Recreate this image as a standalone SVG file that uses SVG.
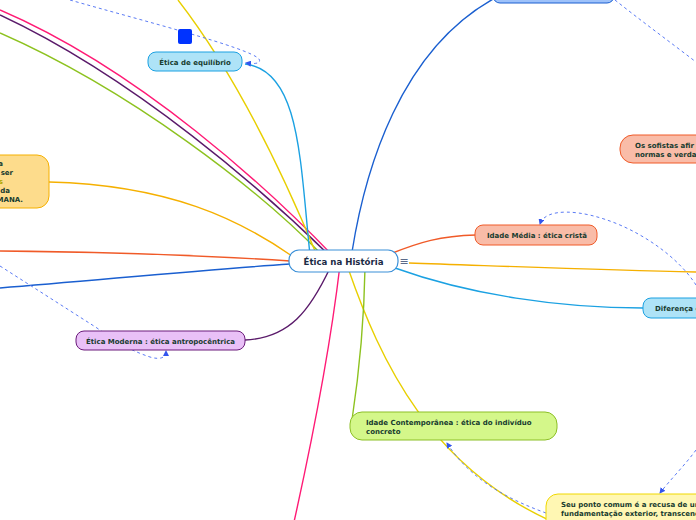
<svg xmlns="http://www.w3.org/2000/svg" width="696" height="520" viewBox="0 0 696 520">
<defs>
<style>
.c{fill:none;stroke-width:1.4}
.d{fill:none;stroke:#5b7bf5;stroke-width:1;stroke-dasharray:3 3}
.t{font-family:"DejaVu Sans",Verdana,sans-serif;font-weight:bold;font-size:7px;fill:#173b2f}
.n{stroke-width:1}
</style>
<marker id="ah" viewBox="0 0 6 6" refX="5" refY="3" markerWidth="6" markerHeight="6" orient="auto" markerUnits="userSpaceOnUse">
<path d="M0,0 L6,3 L0,6 Z" fill="#3355ee"/>
</marker>
</defs>
<rect width="696" height="520" fill="#ffffff"/>
<g id="connectors">
<path class="c" stroke="#ff1a75" d="M335 258 C270 190,140 70,0 10"/>
<path class="c" stroke="#5a1a6a" d="M332 258 C265 192,135 78,0 15"/>
<path class="c" stroke="#8dc21f" d="M325 258 C260 190,130 90,0 33"/>
<path class="c" stroke="#e8cf00" d="M318 258 C290 190,240 80,178 0"/>
<path class="c" stroke="#e8cf00" d="M348 268 C380 360,430 470,560 525"/>
<path class="c" stroke="#1ba1e2" d="M310 255 C300 160,300 70,245 64"/>
<path class="c" stroke="#1a5fd0" d="M352 252 C365 170,400 50,495 -2"/>
<path class="c" stroke="#f05a28" d="M390 254 C420 242,440 236,476 235"/>
<path class="c" stroke="#f5b000" d="M409 263 C500 266,600 270,696 272"/>
<path class="c" stroke="#1ba1e2" d="M395 268 C470 295,560 308,643 308"/>
<path class="c" stroke="#f5b000" d="M292 256 C240 220,170 185,49 182"/>
<path class="c" stroke="#f05a28" d="M290 261 C200 255,100 252,0 251"/>
<path class="c" stroke="#1a5fd0" d="M290 264 C200 270,100 280,0 288"/>
<path class="c" stroke="#5a1a6a" d="M330 268 C310 310,290 338,245 340"/>
<path class="c" stroke="#ff1a75" d="M340 265 C330 350,310 450,294 522"/>
<path class="c" stroke="#8dc21f" d="M365 268 C364 330,358 380,352 420"/>
<path class="d" d="M70 0 C140 20,250 48,259 59 C262 64,253 64,246 63" marker-end="url(#ah)"/>
<path class="d" d="M615 0 C640 20,670 42,696 62"/>
<path class="d" d="M696 285 C680 260,650 238,620 225 C580 208,545 208,540 224" marker-end="url(#ah)"/>
<path class="d" d="M696 450 C685 465,670 480,660 493" marker-end="url(#ah)"/>
<path class="d" d="M546 513 C510 500,470 480,447 443" marker-end="url(#ah)"/>
<path class="d" d="M0 266 L97 328 C120 345,135 352,150 357 C160 360,166 358,166 351" marker-end="url(#ah)"/>
</g>
<rect x="178" y="29" width="14" height="15" rx="2" fill="#0033ff"/>
<g id="node-top">
<rect class="n" x="493" y="-12" width="121" height="15" rx="7" fill="#9ec2fa" stroke="#1a5fd0"/>
</g>
<g id="node-equilibrio">
<rect class="n" x="148" y="52" width="94" height="19" rx="8" fill="#aee3f7" stroke="#1ba1e2"/>
<text class="t" x="195" y="64.5" text-anchor="middle">Ética de equilíbrio</text>
</g>
<g id="node-left">
<rect class="n" x="-30" y="155" width="79" height="53" rx="12" fill="#fddc8c" stroke="#f5b000"/>
<text class="t" x="3" y="166" text-anchor="end">a</text>
<text class="t" x="13" y="175" text-anchor="end">ser</text>
<text class="t" x="3" y="184" text-anchor="end" style="fill:#b0a800">s</text>
<text class="t" x="10" y="193" text-anchor="end">da</text>
<text class="t" x="23" y="202" text-anchor="end">MANA.</text>
</g>
<g id="node-center">
<rect x="289" y="250" width="109" height="22" rx="10" fill="#ffffff" stroke="#3a8fd8" stroke-width="1.2"/>
<text x="343.5" y="264.5" text-anchor="middle" style="font-family:'DejaVu Sans',Verdana,sans-serif;font-weight:bold;font-size:8.6px;fill:#1c2b45">Ética na História</text>
<text x="404" y="265" text-anchor="middle" style="font-family:'DejaVu Sans',sans-serif;font-size:11px;fill:#5a6a8a">≡</text>
</g>
<g id="node-media">
<rect class="n" x="475" y="225" width="122" height="20" rx="8" fill="#f9bca8" stroke="#f05a28"/>
<text class="t" x="487" y="238">Idade Média : ética cristã</text>
</g>
<g id="node-sofistas">
<rect class="n" x="620" y="135" width="100" height="28" rx="13" fill="#f9bca8" stroke="#f05a28"/>
<text class="t" x="635" y="148">Os sofistas afir</text>
<text class="t" x="635" y="157">normas e verda</text>
</g>
<g id="node-diferenca">
<rect class="n" x="643" y="298" width="80" height="20" rx="8" fill="#aee3f7" stroke="#1ba1e2"/>
<text class="t" x="655" y="311">Diferença e</text>
</g>
<g id="node-moderna">
<rect class="n" x="76" y="331" width="169" height="19" rx="8" fill="#e9c0f7" stroke="#6a1a7a"/>
<text class="t" x="160.5" y="343.5" text-anchor="middle">Ética Moderna : ética antropocêntrica</text>
</g>
<g id="node-contemporanea">
<rect class="n" x="350" y="412" width="207" height="28" rx="12" fill="#d4f78a" stroke="#8cbf26"/>
<text class="t" x="366" y="425">Idade Contemporânea : ética do indivíduo</text>
<text class="t" x="366" y="434">concreto</text>
</g>
<g id="node-ponto">
<rect class="n" x="546" y="494" width="180" height="40" rx="12" fill="#fff7b3" stroke="#f0d800"/>
<text class="t" x="561" y="507">Seu ponto comum é a recusa de uma</text>
<text class="t" x="561" y="516">fundamentação exterior, transcendente</text>
</g>
</svg>
